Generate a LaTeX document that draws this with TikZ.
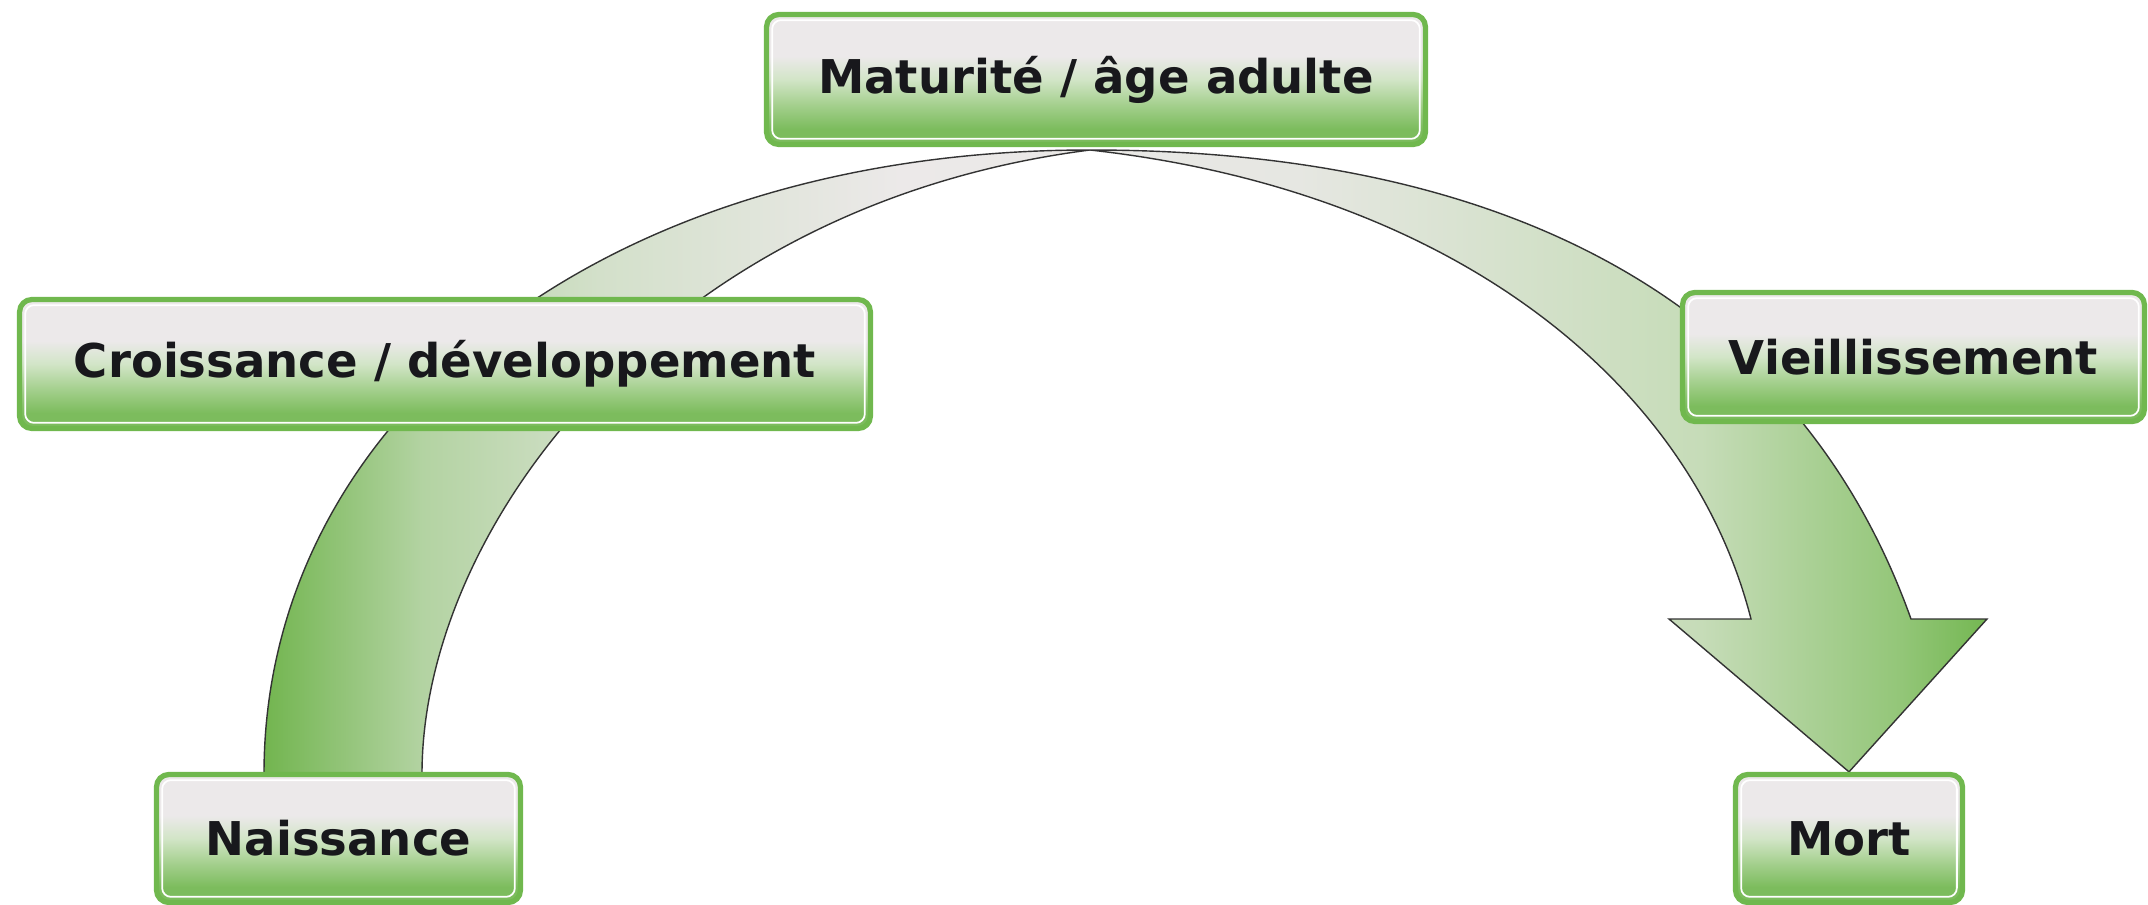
\documentclass[tikz,border=0pt]{standalone}
\usepackage{fontspec}
\setmainfont{DejaVu Sans}
\usetikzlibrary{backgrounds}
\definecolor{a1}{HTML}{72B54F}
\definecolor{a2}{HTML}{B3D3A2}
\definecolor{a3}{HTML}{D3E0CA}
\definecolor{a4}{HTML}{ECE9E9}
\definecolor{a5}{HTML}{E6E7E2}
\definecolor{a6}{HTML}{C6DCB8}
\definecolor{a7}{HTML}{93C678}
\definecolor{a8}{HTML}{74B752}
\definecolor{b1}{HTML}{7CBC5D}
\definecolor{b2}{HTML}{A3CF8C}
\definecolor{b3}{HTML}{D2E5C7}
\definecolor{b4}{HTML}{ECE9EA}
\definecolor{bordergreen}{HTML}{70B84E}
\definecolor{textcol}{HTML}{18181C}
\pgfdeclarehorizontalshading{arcshade}{100bp}{color(0bp)=(a1); color(25bp)=(a1); color(29.6bp)=(a2); color(34.7bp)=(a3); color(43.5bp)=(a4); color(55bp)=(a5); color(66.7bp)=(a6); color(72.5bp)=(a7); color(75bp)=(a8); color(100bp)=(a8)}
\pgfdeclareverticalshading{boxshade}{100bp}{color(0bp)=(b1); color(31bp)=(b1); color(40bp)=(b2); color(50bp)=(b3); color(59bp)=(b4); color(75bp)=(b4); color(100bp)=(b4)}
\tikzset{
  stage/.style={draw=bordergreen, line width=3pt, rounded corners=7pt, shading=boxshade,
    inner sep=0pt, text=textcol, font=\bfseries\fontsize{26.5}{30}\selectfont,
    path picture={\draw[white, line width=1pt, rounded corners=5pt]
      ([shift={(3.2pt,3.2pt)}]path picture bounding box.south west) rectangle
      ([shift={(-3.2pt,-3.2pt)}]path picture bounding box.north east);}},
  arcshape/.style={draw=black!80, line width=0.8pt, shading=arcshade, line join=miter}
}
\begin{document}
\begin{tikzpicture}[x=0.02cm, y=-0.02cm]
\useasboundingbox (0,0) rectangle (2148,905);
\node[stage, minimum width=13.18cm, minimum height=2.6cm] (mat) at (1096,79.5) {Maturité / âge adulte};
\node[stage, minimum width=17.02cm, minimum height=2.58cm] (cro) at (445,364) {Croissance / développement};
\node[stage, minimum width=9.24cm, minimum height=2.58cm] (vie) at (1913.5,357) {Vieillissement};
\node[stage, minimum width=7.28cm, minimum height=2.56cm] (nai) at (338.5,838.5) {Naissance};
\node[stage, minimum width=4.54cm, minimum height=2.56cm] (mor) at (1849,838.5) {Mort};
\coordinate (apex) at (1090,150);
\coordinate (tip) at (mor.north);
\begin{pgfonlayer}{background}
\path[arcshape] (264,774) .. controls (264,420) and (600,150) .. (apex)
  .. controls (1650,150) and (1840,420) .. (1911,619)
  -- (1987,619) -- (tip) -- (1669,619) -- (1751,619)
  .. controls (1690,380) and (1450,190) .. (apex)
  .. controls (660,205) and (422,530) .. (422,774) -- cycle;
\end{pgfonlayer}
\end{tikzpicture}
\end{document}
